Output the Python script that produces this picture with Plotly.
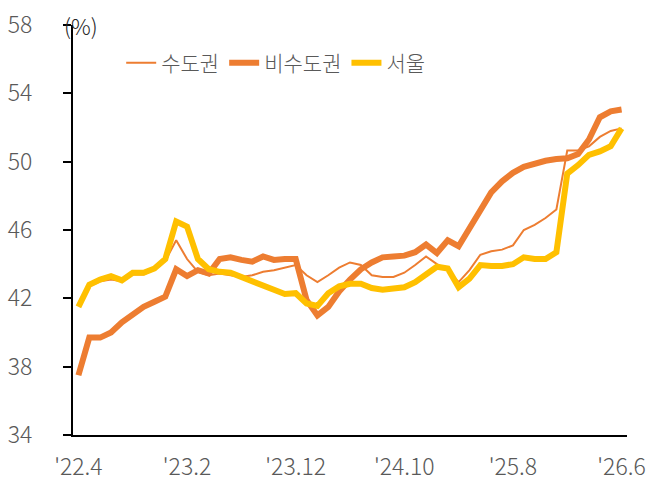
import plotly.graph_objects as go

# Monthly categories '22.4 ... '26.6
months = []
for y in range(22, 27):
    for m in range(1, 13):
        if (y == 22 and m < 4) or (y == 26 and m > 6):
            continue
        months.append(f"'{y}.{m}")

tick_labels = ["'22.4", "'23.2", "'23.12", "'24.10", "'25.8", "'26.6"]
y_ticks = [34, 38, 42, 46, 50, 54, 58]

capital = [41.6, 42.7, 43.0, 43.1, 43.0, 43.4, 43.4, 43.7, 44.2, 45.4,
           44.3, 43.55, 43.35, 43.45, 43.35, 43.25, 43.35, 43.55, 43.65, 43.8,
           43.95, 43.35, 42.95, 43.35, 43.8, 44.1, 43.95, 43.35, 43.25, 43.25,
           43.5, 43.95, 44.45, 44.0, 43.65, 42.95, 43.65, 44.55, 44.75, 44.85,
           45.1, 46.0, 46.3, 46.7, 47.2, 50.65, 50.65, 50.9, 51.45, 51.8,
           51.95]

non_capital = [37.5, 39.7, 39.7, 40.0, 40.6, 41.1, 41.5, 41.8, 42.1, 43.7,
               43.3, 43.65, 43.45, 44.3, 44.4, 44.25, 44.15, 44.45, 44.25, 44.3,
               44.3, 41.9, 41.0, 41.5, 42.4, 43.1, 43.7, 44.1, 44.4, 44.45,
               44.5, 44.7, 45.15, 44.65, 45.4, 45.05, 46.1, 47.3, 48.2, 48.85,
               49.35, 49.7, 49.9, 50.05, 50.15, 50.2, 50.45, 51.3, 52.6, 52.95,
               53.05]

seoul = [41.5, 42.8, 43.1, 43.3, 43.05, 43.5, 43.5, 43.75, 44.3, 46.5,
         46.2, 44.3, 43.7, 43.55, 43.5, 43.25, 42.95, 42.7, 42.5, 42.25,
         42.3, 41.7, 41.55, 42.3, 42.7, 42.85, 42.85, 42.6, 42.5, 42.55,
         42.65, 42.95, 43.45, 43.85, 43.75, 42.65, 43.15, 43.95, 43.9, 43.9,
         44.0, 44.4, 44.3, 44.3, 44.7, 49.3, 49.8, 50.4, 50.6, 50.9,
         51.95]

ORANGE = "#ED7D31"
YELLOW = "#FFC000"
FONT = "Noto Sans CJK KR"
GRAY = "#595959"

fig = go.Figure()
fig.add_trace(go.Scatter(x=months, y=capital, name="수도권", mode="lines",
                         line=dict(color=ORANGE, width=2)))
fig.add_trace(go.Scatter(x=months, y=non_capital, name="비수도권", mode="lines",
                         line=dict(color=ORANGE, width=6)))
fig.add_trace(go.Scatter(x=months, y=seoul, name="서울", mode="lines",
                         line=dict(color=YELLOW, width=6)))

fig.update_layout(
    width=657, height=493,
    margin=dict(l=73, r=30, t=25, b=58, autoexpand=False),
    paper_bgcolor="white", plot_bgcolor="white",
    font=dict(family=FONT, size=22, color=GRAY, weight=300),
    showlegend=True,
    legend=dict(orientation="h", x=0.087, y=0.907, xanchor="left", yanchor="middle",
                font=dict(family=FONT, size=21, color=GRAY, weight=300),
                bgcolor="rgba(0,0,0,0)", itemwidth=30, tracegroupgap=0),
)
fig.add_annotation(text="(%)", xref="paper", yref="paper",
                   x=-0.019, y=1.0, xanchor="left", yanchor="middle",
                   showarrow=False,
                   font=dict(family=FONT, size=22, color="#262626", weight=300))

fig.update_xaxes(type="category", categoryorder="array", categoryarray=months,
                 range=[-0.5, len(months) - 0.5], automargin=False,
                 tickmode="array", tickvals=tick_labels, ticktext=tick_labels,
                 showgrid=False, zeroline=False, ticklabeloverflow="allow",
                 showline=True, linecolor="black", linewidth=2,
                 ticks="", ticklabelstandoff=10,
                 tickfont=dict(family=FONT, size=23, color=GRAY, weight=300))
fig.update_yaxes(range=[34, 58], tickmode="array", tickvals=y_ticks,
                 automargin=False, ticklabeloverflow="allow",
                 showgrid=False, zeroline=False,
                 showline=True, linecolor="black", linewidth=2,
                 ticks="outside", ticklen=8, tickwidth=2, tickcolor="black",
                 ticklabelstandoff=26,
                 tickfont=dict(family=FONT, size=23, color=GRAY, weight=300))

fig.write_html("out.html", config={"displayModeBar": False},
               post_script="document.body.style.margin='0';document.body.style.overflow='hidden';")
